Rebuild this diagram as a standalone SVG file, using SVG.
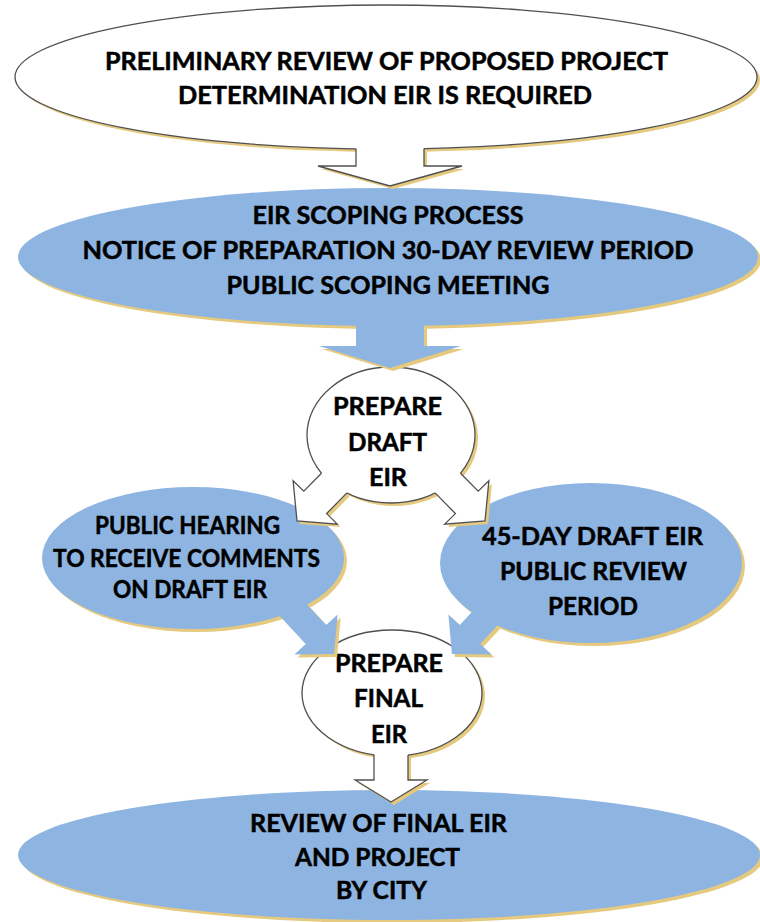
<svg xmlns="http://www.w3.org/2000/svg" width="760" height="922" viewBox="0 0 760 922">
<style>
.sh{fill:#E4C97E}
.wn{fill:#fff;stroke:#505050;stroke-width:1.3}
.bn{fill:#8EB5E2}
.wf{fill:#fff}
.ol{fill:none;stroke:#505050;stroke-width:1.3;stroke-linejoin:miter}
.t{font-family:Lato,"Open Sans","Liberation Sans",sans-serif;font-weight:700;font-size:24px;fill:#000;stroke:#000;stroke-width:0.5;text-anchor:middle}
</style>
<rect width="760" height="922" fill="#fff"/>
<g id="nodes">
<g id="n1">
<ellipse class="sh" cx="389" cy="80" rx="371" ry="72"/>
<ellipse class="wn" cx="386" cy="77" rx="371" ry="72"/>
<text class="t" x="386.5" y="70" textLength="563" lengthAdjust="spacingAndGlyphs">PRELIMINARY REVIEW OF PROPOSED PROJECT</text>
<text class="t" x="385" y="104" textLength="414" lengthAdjust="spacingAndGlyphs">DETERMINATION EIR IS REQUIRED</text>
</g>
<g id="n2">
<ellipse class="sh" cx="391" cy="260" rx="370" ry="69"/>
<ellipse class="bn" cx="388" cy="257" rx="370" ry="69"/>
<text class="t" x="388" y="224" textLength="271" lengthAdjust="spacingAndGlyphs">EIR SCOPING PROCESS</text>
<text class="t" x="388" y="259" textLength="611" lengthAdjust="spacingAndGlyphs">NOTICE OF PREPARATION 30-DAY REVIEW PERIOD</text>
<text class="t" x="388" y="294" textLength="323" lengthAdjust="spacingAndGlyphs">PUBLIC SCOPING MEETING</text>
</g>
<g id="n4">
<ellipse class="sh" cx="196" cy="561" rx="151" ry="71"/>
<ellipse class="bn" cx="193" cy="558" rx="151" ry="71"/>
<text class="t" x="187.5" y="534" textLength="185" lengthAdjust="spacingAndGlyphs">PUBLIC HEARING</text>
<text class="t" x="186.5" y="567" textLength="267" lengthAdjust="spacingAndGlyphs">TO RECEIVE COMMENTS</text>
<text class="t" x="190" y="598" textLength="154" lengthAdjust="spacingAndGlyphs">ON DRAFT EIR</text>
</g>
<g id="n5">
<ellipse class="sh" cx="594" cy="566" rx="151" ry="80"/>
<ellipse class="bn" cx="591" cy="563" rx="151" ry="80"/>
<text class="t" x="592.5" y="545" textLength="221" lengthAdjust="spacingAndGlyphs">45-DAY DRAFT EIR</text>
<text class="t" x="593.5" y="580" textLength="187" lengthAdjust="spacingAndGlyphs">PUBLIC REVIEW</text>
<text class="t" x="593" y="615" textLength="90" lengthAdjust="spacingAndGlyphs">PERIOD</text>
</g>
<g id="n3">
<ellipse class="sh" cx="394" cy="438" rx="84" ry="68"/>
<ellipse class="wn" cx="391" cy="435" rx="84" ry="68"/>
<text class="t" x="387.5" y="415" textLength="109" lengthAdjust="spacingAndGlyphs">PREPARE</text>
<text class="t" x="387.5" y="451" textLength="79" lengthAdjust="spacingAndGlyphs">DRAFT</text>
<text class="t" x="388" y="486" textLength="38" lengthAdjust="spacingAndGlyphs">EIR</text>
</g>
<g id="n6">
<ellipse class="sh" cx="395" cy="696" rx="90" ry="63"/>
<ellipse class="wn" cx="392" cy="693" rx="90" ry="63"/>
<text class="t" x="389" y="672" textLength="108" lengthAdjust="spacingAndGlyphs">PREPARE</text>
<text class="t" x="388.5" y="707" textLength="69" lengthAdjust="spacingAndGlyphs">FINAL</text>
<text class="t" x="389" y="743" textLength="36" lengthAdjust="spacingAndGlyphs">EIR</text>
</g>
<g id="n7">
<ellipse class="sh" cx="392" cy="858" rx="371" ry="65"/>
<ellipse class="bn" cx="389" cy="855" rx="371" ry="65"/>
<text class="t" x="378.5" y="832" textLength="257" lengthAdjust="spacingAndGlyphs">REVIEW OF FINAL EIR</text>
<text class="t" x="377.5" y="866" textLength="165" lengthAdjust="spacingAndGlyphs">AND PROJECT</text>
<text class="t" x="381.5" y="899" textLength="91" lengthAdjust="spacingAndGlyphs">BY CITY</text>
</g>
</g>
<g id="connectors">
<g id="c1">
<polygon class="sh" points="359,151.8 427,151.6 427,169 465,169 393,189 321,169 359,169"/>
<polygon class="wf" points="356,142 424,142 424,166 462,166 390,186 318,166 356,166"/>
<polyline class="ol" points="356,148.8 356,166 318,166 390,186 462,166 424,166 424,148.6"/>
</g>
<g id="c2">
<polygon class="sh" points="359,328.7 427,328.7 427,349 464,349 393,371 322,349 359,349"/>
<polygon class="bn" points="356,318 424,318 424,346 461,346 390,368 319,346 356,346"/>
</g>
<g id="c3">
<polygon class="sh" points="324.5,476.2 306.8,494.2 296.1,483.7 300,524 340.3,527.1 329.6,516.6 349.9,495.9"/>
<polygon class="wf" points="326.2,468.4 303.8,491.2 293.1,480.7 297,521 337.3,524.1 326.6,513.6 351.8,487.9"/>
<polyline class="ol" points="321.5,473.2 303.8,491.2 293.1,480.7 297,521 337.3,524.1 326.6,513.6 346.9,492.9"/>
</g>
<g id="c4">
<polygon class="sh" points="463.5,476.2 481.2,494.2 491.9,483.7 488,524 447.7,527.1 458.4,516.6 438.1,495.9"/>
<polygon class="wf" points="455.8,468.4 478.2,491.2 488.9,480.7 485,521 444.7,524.1 455.4,513.6 430.2,487.9"/>
<polyline class="ol" points="460.5,473.2 478.2,491.2 488.9,480.7 485,521 444.7,524.1 455.4,513.6 435.1,492.9"/>
</g>
<g id="c5">
<polygon class="sh" points="310.1,607.5 329.2,628 340.6,617.4 337.1,656.9 297.4,657.6 308.8,647 282.8,619.1"/>
<polygon class="bn" points="302.3,599.4 326.2,625 337.6,614.4 334.1,653.9 294.4,654.6 305.8,644 275.1,611.1"/>
</g>
<g id="c6">
<polygon class="sh" points="474.8,615.1 462.8,628 451.4,617.4 454.9,656.9 494.6,657.6 483.2,647 500.2,628.7"/>
<polygon class="bn" points="476.6,607 459.8,625 448.4,614.4 451.9,653.9 491.6,654.6 480.2,644 502,620.6"/>
</g>
<g id="c7">
<polygon class="sh" points="377,757.7 411,758 411,783 430,783 394,805 358,783 377,783"/>
<polygon class="wf" points="374,748 408,748 408,780 427,780 391,802 355,780 374,780"/>
<polyline class="ol" points="374,754.7 374,780 355,780 391,802 427,780 408,780 408,755"/>
</g>
</g>
</svg>
